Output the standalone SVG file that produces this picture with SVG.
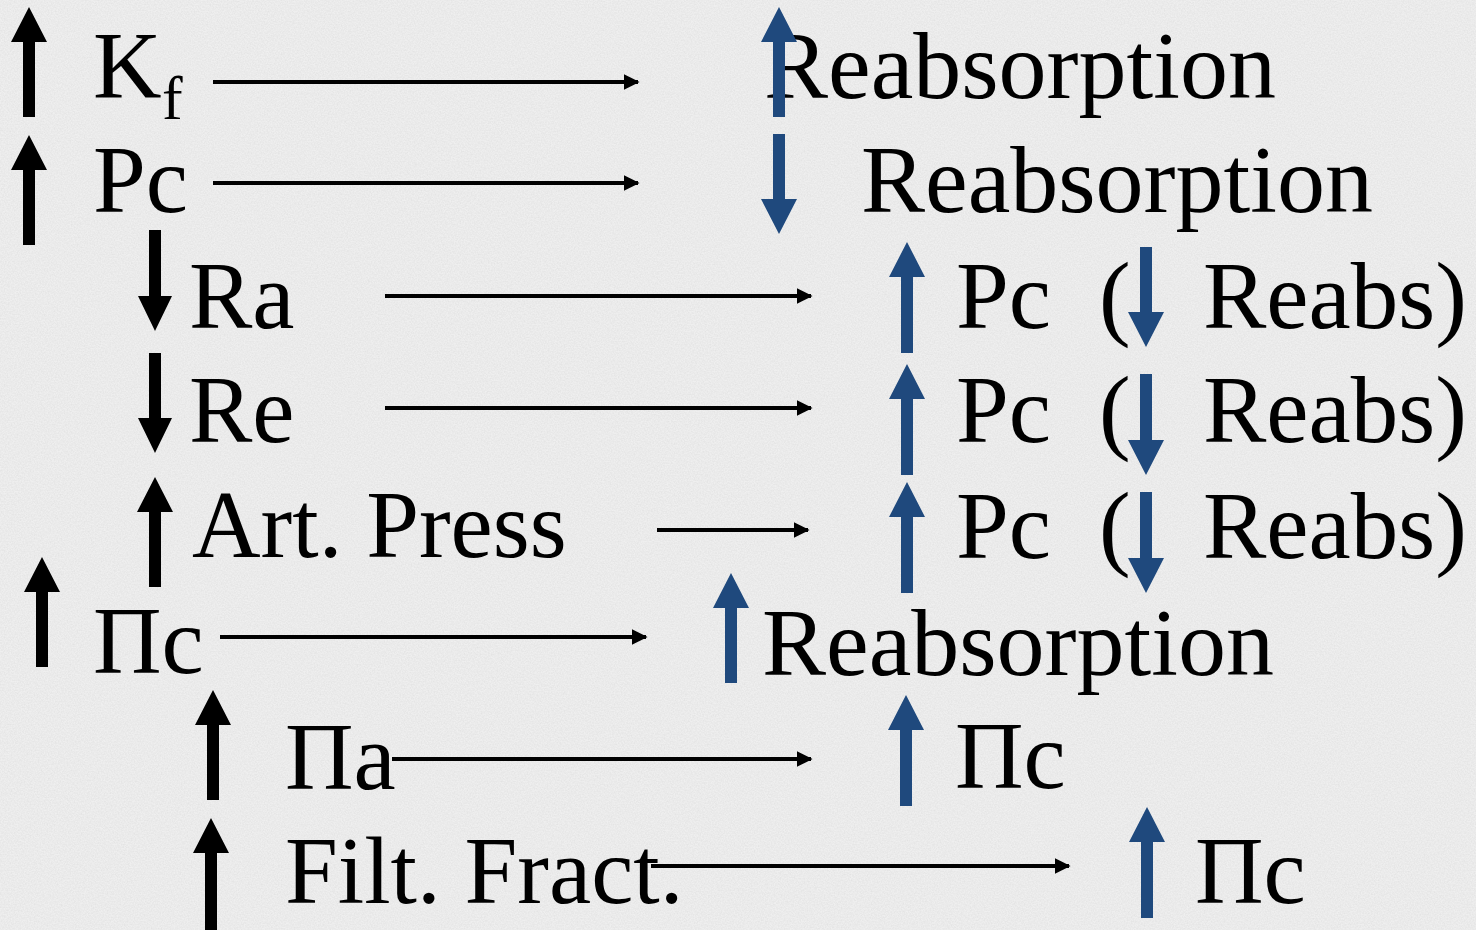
<svg xmlns="http://www.w3.org/2000/svg" width="1476" height="930" viewBox="0 0 1476 930">
  <defs>
    <filter id="noise" x="0" y="0" width="100%" height="100%">
      <feTurbulence type="fractalNoise" baseFrequency="0.7" numOctaves="3" seed="7"/>
      <feColorMatrix type="matrix" values="0 0 0 0 0.55  0 0 0 0 0.55  0 0 0 0 0.55  0.45 0 0 0 -0.12"/>
    </filter>
    <marker id="ah" viewBox="0 0 10 10" refX="9" refY="5" markerWidth="4" markerHeight="4" markerUnits="strokeWidth" orient="auto">
      <path d="M0,0 L10,5 L0,10 Z" fill="#000"/>
    </marker>
  </defs>
  <style>
    text { font-family: 'Liberation Serif', 'DejaVu Serif', serif; font-size: 95px; fill: #000; }
    .sub { font-size: 62px; }
    .wide { font-size: 96px; }
    .blk { fill: #000; }
    .blu { fill: #1F497D; }
    .conn line { stroke: #000; stroke-width: 4; marker-end: url(#ah); }
  </style>

  <rect x="0" y="0" width="1476" height="930" fill="#efefef"/>
  <rect x="0" y="0" width="1476" height="930" filter="url(#noise)"/>

  <g font-family="Liberation Serif, serif">
  <!-- Left column nodes -->
  <g id="kf">
    <text x="93" y="98">K</text>
    <text class="sub" x="162" y="119">f</text>
    <polygon class="blk" points="29,7 47,42 35,42 35,117 23,117 23,42 11,42"/>
  </g>
  <g id="pc-left">
    <text x="93" y="212">Pc</text>
    <polygon class="blk" points="29,135 47,170 35,170 35,245 23,245 23,170 11,170"/>
  </g>
  <g id="ra">
    <text x="189" y="328">Ra</text>
    <polygon class="blk" points="149,230 161,230 161,296 172,296 155,331 138,296 149,296"/>
  </g>
  <g id="re">
    <text x="189" y="442">Re</text>
    <polygon class="blk" points="149,353 161,353 161,418 172,418 155,453 138,418 149,418"/>
  </g>
  <g id="art-press">
    <text x="192" y="557">Art. Press</text>
    <polygon class="blk" points="155,477 173,512 161,512 161,587 149,587 149,512 137,512"/>
  </g>
  <g id="pic-left">
    <text x="93" y="673">Πc</text>
    <polygon class="blk" points="42,557 60,592 48,592 48,667 36,667 36,592 24,592"/>
  </g>
  <g id="pia">
    <text x="285" y="789">Πa</text>
    <polygon class="blk" points="213,690 231,725 219,725 219,800 207,800 207,725 195,725"/>
  </g>
  <g id="filt-fract">
    <text x="285" y="903">Filt. Fract.</text>
    <polygon class="blk" points="211,818 229,853 217,853 217,930 205,930 205,853 193,853"/>
  </g>

  <!-- Right column nodes -->
  <g id="reab-up-1">
    <text class="wide" x="764" y="98">Reabsorption</text>
    <polygon class="blu" points="779,7 797,42 785,42 785,117 773,117 773,42 761,42"/>
  </g>
  <g id="reab-down">
    <text class="wide" x="861" y="212">Reabsorption</text>
    <polygon class="blu" points="773,134 785,134 785,199 797,199 779,234 761,199 773,199"/>
  </g>
  <g id="pc-reabs-1">
    <text y="328"><tspan x="956">Pc</tspan><tspan x="1099">(</tspan><tspan x="1203">Reabs)</tspan></text>
    <polygon class="blu" points="907,242 925,277 913,277 913,353 901,353 901,277 889,277"/>
    <polygon class="blu" points="1140,247 1152,247 1152,312 1164,312 1146,347 1128,312 1140,312"/>
  </g>
  <g id="pc-reabs-2">
    <text y="442"><tspan x="956">Pc</tspan><tspan x="1099">(</tspan><tspan x="1203">Reabs)</tspan></text>
    <polygon class="blu" points="907,364 925,399 913,399 913,475 901,475 901,399 889,399"/>
    <polygon class="blu" points="1140,374 1152,374 1152,440 1164,440 1146,475 1128,440 1140,440"/>
  </g>
  <g id="pc-reabs-3">
    <text y="558"><tspan x="956">Pc</tspan><tspan x="1099">(</tspan><tspan x="1203">Reabs)</tspan></text>
    <polygon class="blu" points="907,482 925,517 913,517 913,593 901,593 901,517 889,517"/>
    <polygon class="blu" points="1140,492 1152,492 1152,558 1164,558 1146,593 1128,558 1140,558"/>
  </g>
  <g id="reab-up-2">
    <text class="wide" x="762" y="675">Reabsorption</text>
    <polygon class="blu" points="731,573 749,608 737,608 737,683 725,683 725,608 713,608"/>
  </g>
  <g id="pic-right-1">
    <text x="955" y="788">Πc</text>
    <polygon class="blu" points="906,695 924,730 912,730 912,806 900,806 900,730 888,730"/>
  </g>
  <g id="pic-right-2">
    <text x="1195" y="903">Πc</text>
    <polygon class="blu" points="1147,807 1165,842 1153,842 1153,918 1141,918 1141,842 1129,842"/>
  </g>
  </g>

  <!-- Connectors -->
  <g id="connectors" class="conn">
    <line x1="213" y1="82" x2="638" y2="82"/>
    <line x1="213" y1="183" x2="638" y2="183"/>
    <line x1="385" y1="296" x2="811" y2="296"/>
    <line x1="385" y1="408" x2="811" y2="408"/>
    <line x1="657" y1="530" x2="808" y2="530"/>
    <line x1="220" y1="637" x2="646" y2="637"/>
    <line x1="392" y1="759" x2="811" y2="759"/>
    <line x1="651" y1="866" x2="1069" y2="866"/>
  </g>
</svg>
